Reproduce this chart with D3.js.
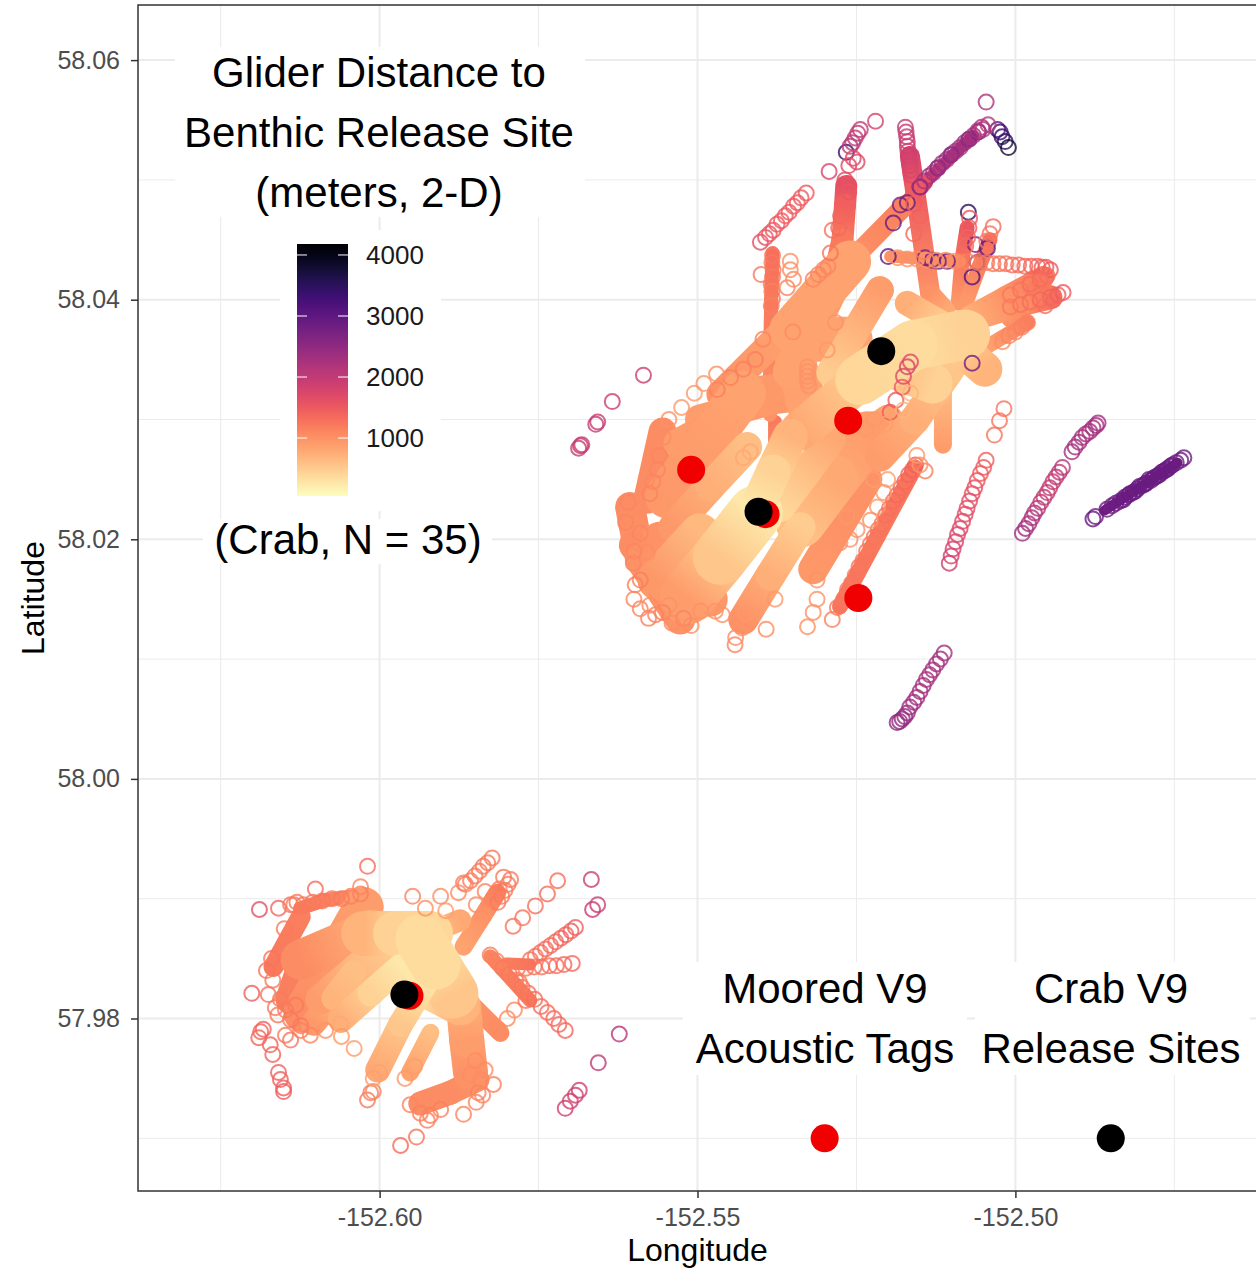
<!DOCTYPE html>
<html>
<head>
<meta charset="utf-8">
<script src="https://cdn.jsdelivr.net/npm/d3@7"></script>
<style>
    html, body { margin: 0; padding: 0; background: #fff; }
    text { font-family: "Liberation Sans", Arial, sans-serif; }
</style>
</head>
<body>
<div id="chart"></div>
<script>
// glider fixes are stored as [lon, lat, distance]: lon and lat are offsets from 152W / 58N in 1e-4 degrees
const lonTicks = [-152.60, -152.55, -152.50];
const lonMinor = [-152.625, -152.575, -152.525, -152.475];
const latTicks = [57.98, 58.00, 58.02, 58.04, 58.06];
const latMinor = [57.97, 57.99, 58.01, 58.03, 58.05];
const legendTicks = [1000, 2000, 3000, 4000];
const distanceRange = [50, 4180];

const crabSites = [[-152.5211, 58.0357], [-152.5404, 58.0223], [-152.5961, 57.9820]];
const mooredTags = [[-152.5510, 58.0258], [-152.5263, 58.0299], [-152.5247, 58.0151], [-152.5393, 58.0221], [-152.5953, 57.9819]];
const keyTag = [-152.53, 57.97];
const keySite = [-152.485, 57.97];

// very dense parts of the tracks, where the open circles merge into solid bands
const swaths = [
    [[-5606,227,1050],[-5590,183,1000],[-5527,133,1000]],
    [[-5579,233,1050],[-5555,290,1050]],
    [[-5547,236,950],[-5488,279,900],[-5428,322,850]],
    [[-5496,205,650],[-5563,166,950]],
    [[-5409,222,250],[-5464,185,550],[-5516,152,900]],
    [[-5422,277,600],[-5480,244,750],[-5538,210,950]],
    [[-5406,227,250],[-5381,256,450],[-5354,286,700]],
    [[-5378,258,1000],[-5378,298,1200]],
    [[-5370,227,400],[-5291,283,800]],
    [[-5338,214,600],[-5287,250,800],[-5233,286,900]],
    [[-5338,210,500],[-5385,170,750],[-5428,133,1000]],
    [[-5318,175,950],[-5276,212,1000],[-5233,250,1000]],
    [[-5276,144,1250],[-5217,202,1200],[-5158,260,1250]],
    [[-5464,321,1000],[-5354,379,850]],
    [[-5354,375,850],[-5260,432,850]],
    [[-5260,432,1000],[-5173,479,1150]],
    [[-5173,479,1300],[-5142,498,1600]],
    [[-5266,495,1600],[-5268,479,1450],[-5272,450,1200],[-5283,425,1100]],
    [[-5166,520,1800],[-5158,492,1500],[-5134,405,1000],[-5110,391,800]],
    [[-5197,436,1000],[-5087,432,1050]],
    [[-5076,460,1550],[-5084,433,1250],[-5090,397,950]],
    [[-5040,450,1300],[-5056,429,1150],[-5076,400,950]],
    [[-5071,386,750],[-5016,402,1000],[-4956,419,1200]],
    [[-5071,383,750],[-4993,396,1050],[-4945,402,1300]],
    [[-5060,356,800],[-4981,381,1150]],
    [[-5244,333,400],[-5161,362,350],[-5079,371,450]],
    [[-5291,339,500],[-5213,408,900]],
    [[-5170,397,750],[-5118,381,500]],
    [[-5103,367,400],[-5048,342,700]],
    [[-5103,342,550],[-5158,300,750],[-5213,269,900]],
    [[-5114,329,600],[-5114,279,900]],
    [[-5213,346,400],[-5338,291,800]],
    [[-5354,367,900],[-5322,300,850]],
    [[-5496,300,900],[-5386,316,950]],
    [[-5382,439,1300],[-5384,400,1200],[-5386,352,1100],[-5386,304,1000]],
    [[-6120,-195,1050],[-6072,-151,950],[-6025,-107,900]],
    [[-6061,-201,750],[-6014,-179,450],[-5967,-157,250]],
    [[-6104,-204,950],[-6072,-183,700],[-6041,-162,600]],
    [[-6025,-129,700],[-5975,-129,450],[-5920,-129,400]],
    [[-6167,-157,1200],[-6124,-115,1150]],
    [[-6125,-108,1200],[-6085,-101,1150],[-6040,-98,1050]],
    [[-5925,-168,250],[-5967,-205,550],[-6003,-243,800]],
    [[-5920,-212,600],[-5952,-245,850]],
    [[-5936,-134,350],[-5912,-155,350],[-5884,-179,550]],
    [[-5925,-129,500],[-5873,-118,800]],
    [[-5868,-140,850],[-5837,-114,1000],[-5815,-95,1150]],
    [[-5868,-190,750],[-5863,-218,900],[-5857,-245,1000]],
    [[-5936,-271,1050],[-5889,-262,1050],[-5846,-251,1000]],
    [[-5936,-172,250],[-5873,-189,700]],
    [[-5826,-148,1100],[-5763,-185,1200]],
    [[-5802,-154,1150],[-5763,-155,1250]],
    [[-5440,317,950],[-5338,324,950]],
    [[-5338,367,850],[-5260,367,850]],
    [[-5292,408,900],[-5354,340,850]],
    [[-6124,-151,1050],[-6014,-126,750]],
    [[-6093,-184,900],[-5991,-138,500]],
    [[-6140,-184,1150],[-6124,-159,1150]],
    [[-5852,-190,1000],[-5810,-212,1050]],
    [[-5005,385,1000],[-4960,410,1200]],
    [[-5560,200,1000],[-5480,150,950]],
    [[-5600,195,1050],[-5555,165,1000]],
    [[-5530,280,900],[-5460,300,950]],
    [[-5250,280,950],[-5200,300,850]],
    [[-5180,340,600],[-5130,330,450]],
    [[-5142,498,1900],[-5104,518,2200],[-5066,537,2300]],
    [[-4860,224,2850],[-4745,264,2850]]
];
const swathWidths = [30,28,45,40,55,30,35,14,30,50,30,30,16,28,42,20,16,22,20,12,15,15,22,24,15,50,28,25,35,30,18,40,40,30,14,
    40,26,25,45,20,14,25,18,50,22,18,35,24,40,14,12,40,45,35,40,30,30,18,22,35,30,30,30,40,12,10];

const darkFixes = [
    [-5266,523,3400],[-5200,436,3000],[-5142,435,2800],[-5131,433,2800],[-5121,432,2900],[-5107,432,2900],[-5060,431,3200],
    [-5068,419,3100],[-5192,464,2900],[-5170,481,2900],[-5181,479,2800],[-5063,446,2700],[-5074,473,3500],[-5068,347,2800],
    [-5044,443,3000],[-5150,494,3100],[-5122,510,3100],[-5101,521,3100],[-5073,534,3100],[-5058,540,3000],
    [-5028,542,3000],[-5024,540,3300],[-5021,536,3400],[-5016,532,3500],[-5011,527,3800]
];
const farWest = [[-5585,337,1900],[-5634,315,1900],[-5657,298,1950],[-5660,296,1950],[-5682,279,1950],[-5687,276,1950],[-5684,278,1950]];
const eastLine = [
    [-4878,217,2900],[-4874,219,2850],[-4856,225,2850],[-4848,228,2800],[-4842,230,2850],[-4835,232,2850],[-4828,235,2850],
    [-4822,237,2850],[-4815,239,2850],[-4808,242,2850],[-4800,245,2850],[-4794,247,2850],[-4787,249,2850],[-4780,252,2850],
    [-4773,254,2850],[-4766,257,2850],[-4760,259,2850],[-4753,262,2850],[-4747,264,2850],[-4740,266,2850],[-4735,268,2850],
    [-4830,233,2900],[-4820,238,2900],[-4812,240,2900],[-4805,244,2900],[-4796,246,2900],[-4790,250,2900],[-4783,251,2900],
    [-4776,253,2900],[-4770,256,2900],[-4763,258,2900],[-4756,261,2900]
];
const midEastLine = [
    [-4989,205,2350],[-4984,209,2300],[-4979,213,2250],[-4974,218,2200],[-4970,222,2150],[-4965,226,2100],[-4960,231,2050],
    [-4955,235,2000],[-4950,239,1950],[-4946,243,1950],[-4941,248,1950],[-4936,252,2000],[-4931,256,2050],[-4926,260,2100],
    [-4911,273,2300],[-4906,277,2300],[-4900,281,2250],[-4895,285,2250],[-4889,288,2250],[-4883,290,2250],[-4878,293,2250],
    [-4873,295,2300],[-4870,297,2300]
];
const nearEastLine = [
    [-5104,180,1850],[-5101,186,1800],[-5098,192,1800],[-5094,198,1750],[-5091,204,1750],[-5087,209,1700],[-5083,215,1700],
    [-5079,221,1650],[-5076,226,1650],[-5072,232,1650],[-5068,238,1600],[-5064,243,1600],[-5060,249,1550],[-5055,255,1500],
    [-5050,260,1500],[-5046,266,1450],[-5033,287,1250],[-5025,299,1250],[-5018,309,1250]
];
const southLine = [
    [-5186,47,2500],[-5182,48,2500],[-5178,50,2450],[-5174,52,2450],[-5170,55,2400],[-5166,60,2350],[-5160,64,2350],[-5155,68,2300],
    [-5150,73,2300],[-5145,78,2300],[-5140,83,2250],[-5135,87,2250],[-5130,91,2250],[-5124,96,2300],[-5118,100,2300],[-5112,105,2300]
];
const thinBand = [
    [-5288,133,1150],[-5280,143,1200],[-5270,150,1200],[-5264,158,1200],[-5258,163,1250],[-5252,170,1200],[-5246,177,1250],
    [-5240,182,1200],[-5234,190,1250],[-5228,196,1200],[-5222,202,1250],[-5216,208,1250],[-5210,213,1250],[-5204,220,1300],
    [-5198,226,1300],[-5192,232,1300],[-5186,237,1350],[-5180,243,1300],[-5174,248,1350],[-5168,254,1400],[-5162,258,1400],
    [-5157,262,1450],[-5142,257,1150]
];
const lowerScatter = [
    [-5327,127,1000],[-5318,139,1000],[-5312,150,1000],[-5312,166,1000],[-5276,197,1000],[-5260,200,1000],[-5249,208,1000],
    [-5265,219,950],[-5223,250,900],[-5201,250,900],[-5207,239,950],[-5217,227,950],[-5228,216,1000],[-5441,112,1100],
    [-5392,125,1050],[-5378,150,950],[-5430,126,1000],[-5472,140,1000],[-5461,137,1000],[-5577,134,1150],[-5566,137,1150],
    [-5555,139,1150],[-5522,134,1100],[-5598,162,1150],[-5590,166,1150],[-5601,180,1100],[-5613,214,1100],[-5609,231,1100],
    [-5593,197,1050],[-5579,189,1050],[-5554,285,1050],[-5417,273,800],[-5428,268,800],[-5545,145,1000],[-5600,190,1100],
    [-5590,205,1100],[-5580,250,1050],[-5572,270,1050]
];
const northWestRings = [
    [-5329,489,1500],[-5337,485,1500],[-5343,481,1500],[-5349,478,1500],[-5356,473,1500],[-5362,470,1500],[-5368,466,1500],
    [-5375,463,1500],[-5381,458,1500],[-5387,455,1550],[-5393,452,1550],[-5401,448,1600],[-5382,437,1200],[-5383,431,1200],
    [-5381,425,1250],[-5382,419,1200],[-5384,413,1200],[-5383,407,1150],[-5382,401,1200],[-5384,395,1150],[-5354,425,1050],
    [-5349,417,1050],[-5359,410,1100],[-5354,432,1000],[-5400,421,1200],[-5293,507,1750],[-5220,549,1800],[-5244,542,2000],
    [-5248,539,2000],[-5252,535,2000],[-5256,531,2050],[-5260,528,2050],[-5249,515,1700],[-5255,518,1700],[-5262,512,1700],
    [-5173,544,1950],[-5172,540,1950],[-5171,536,1950],[-5170,532,1900],[-5170,528,1900],[-5169,524,1850],[-5168,520,1850],
    [-5167,516,1800],[-5166,512,1800],[-5165,508,1750],[-5164,504,1700]
];
const northEastDiagonal = [
    [-5150,494,2300],[-5143,499,2250],[-5136,503,2300],[-5129,506,2300],[-5122,510,2300],[-5115,514,2350],[-5108,517,2350],
    [-5101,521,2350],[-5094,524,2300],[-5087,527,2350],[-5080,531,2300],[-5073,534,2350],[-5066,537,2300],[-5059,541,2200],
    [-5053,544,2150],[-5046,565,2200],[-5043,546,2100],[-5051,542,2150]
];
const fanEast = [
    [-5185,435,1000],[-5170,434,1000],[-5155,434,1000],[-5140,433,1000],[-5125,433,1000],[-5110,433,1000],[-5095,432,1050],
    [-5075,432,1100],[-5060,431,1150],[-5045,431,1200],[-5035,430,1200],[-5025,430,1250],[-5015,430,1250],[-5005,429,1300],
    [-4995,429,1300],[-4985,428,1350],[-4975,428,1400],[-4965,428,1400],[-4958,427,1450],[-4952,427,1450],[-4945,425,1500],
    [-5008,404,1200],[-4992,408,1250],[-4977,413,1300],[-4961,417,1350],[-5008,394,1200],[-4992,396,1250],[-4977,398,1300],
    [-4961,400,1350],[-4945,402,1400],[-4933,404,1450],[-4925,406,1500],[-4953,395,1300],[-5020,365,1050],[-5010,370,1100],
    [-5000,373,1100],[-4990,377,1150],[-4981,381,1150],[-5072,468,1500],[-5073,460,1450],[-5075,452,1400],[-5078,445,1350],
    [-5035,461,1300],[-5040,455,1250],[-5045,449,1200]
];
const blobRings = [
    [-5283,381,1000],[-5327,340,1000],[-5327,336,1000],[-5327,332,1000],[-5325,328,1000],[-5327,344,1000],[-5296,358,950],
    [-5350,373,1050],[-5397,367,1100],[-5318,417,1100],[-5310,421,1100],[-5302,425,1100],[-5295,428,1100],[-5288,458,1300],
    [-5291,439,1250],[-5469,325,1150],[-5448,335,1150],[-5428,342,1150],[-5409,350,1150],[-5197,306,1500],[-5178,327,1500],
    [-5188,316,1500],[-5165,322,700],[-5176,308,700],[-5176,336,1700],[-5170,344,1800],[-5165,348,1700]
];
const westPatchRings = [
    [-6019,-73,1300],[-6101,-92,1300],[-6189,-109,1600],[-6159,-108,1350],[-6201,-179,1450],[-6187,-211,1400],[-6190,-216,1400],
    [-6183,-209,1400],[-6172,-222,1400],[-6168,-230,1400],[-6159,-245,1450],[-6156,-251,1450],[-6151,-258,1450],[-6151,-261,1500],
    [-5948,-98,1100],[-5928,-108,1000],[-5967,-306,1350],[-5942,-299,1250],[-6019,-268,1200],[-6014,-262,1150],[-6010,-261,1100],
    [-6140,-105,1200],[-6130,-103,1200],[-6120,-105,1200],[-6105,-103,1200],[-6090,-102,1200],[-6075,-100,1200],[-6060,-100,1200],
    [-6045,-98,1150],[-6030,-96,1150],[-6168,-168,1200],[-6175,-180,1250],[-6156,-184,1200],[-6164,-191,1200],[-6148,-193,1200],
    [-6160,-197,1200],[-6132,-189,1200],[-6140,-201,1200],[-6124,-206,1200],[-6148,-214,1200],[-6140,-218,1250],[-6124,-210,1150],
    [-6109,-214,1100],[-6061,-205,800]
];
const eastPatchRings = [
    [-5826,-147,1150],[-5816,-152,1150],[-5806,-158,1200],[-5796,-163,1200],[-5786,-168,1200],[-5776,-174,1250],[-5766,-179,1250],
    [-5756,-184,1300],[-5746,-190,1300],[-5736,-195,1300],[-5726,-200,1350],[-5718,-205,1350],[-5708,-210,1400],
    [-5783,-158,1200],[-5770,-158,1200],[-5757,-157,1250],[-5745,-157,1250],[-5733,-156,1300],[-5722,-156,1300],[-5710,-155,1350],
    [-5697,-154,1350],[-5763,-151,1250],[-5755,-148,1250],[-5747,-145,1300],[-5739,-142,1300],[-5731,-139,1350],[-5723,-136,1350],
    [-5715,-133,1400],[-5707,-130,1400],[-5699,-127,1450],[-5692,-124,1450],[-5823,-66,1200],[-5830,-70,1200],[-5837,-73,1200],
    [-5843,-77,1200],[-5850,-81,1200],[-5857,-85,1150],[-5865,-88,1150],[-5868,-87,1150],[-5794,-84,1200],[-5798,-88,1200],
    [-5803,-93,1200],[-5808,-98,1200],[-5814,-103,1200],[-5755,-106,1300],[-5736,-96,1300],[-5720,-85,1300],[-5775,-116,1250],
    [-5790,-123,1250],[-5667,-84,1900],[-5657,-105,1950],[-5665,-109,1950],[-5623,-213,2100],[-5656,-237,2000],[-5686,-260,1850],
    [-5692,-264,1850],[-5700,-269,1850],[-5708,-275,1850],[-5788,-193,1050],[-5799,-200,1050],[-5813,-209,1050],[-5821,-255,1150],
    [-5868,-280,1100],[-5857,-247,1050],[-5841,-251,1050],[-5849,-235,1050],[-5834,-243,1050],[-5838,-264,1100],[-5904,-276,1150],
    [-5920,-281,1150],[-5936,-279,1150],[-5952,-272,1100],[-5896,-110,900],[-5876,-95,1050],[-5834,-94,1100],[-5848,-105,1050],
    [-5904,-98,1050]
];
const bandEnds = [
    [-5560,270,1100],[-5563,258,1100],[-5570,248,1100],[-5575,238,1100],[-5545,300,1000],[-5525,310,950],[-5505,322,950],
    [-5490,330,950],[-5470,338,1000],[-5600,150,1100],[-5590,142,1100],[-5575,145,1050],[-5540,130,1050],[-5510,128,1050],
    [-5495,140,1000],[-5440,118,1050],[-5434,128,1000],[-5425,138,950],[-5235,292,950],[-5222,300,950],[-5205,296,900],
    [-5150,262,1000],[-5155,270,950],[-4950,420,1300],[-4960,415,1250],[-4940,400,1350],[-5268,500,1600],[-5262,490,1550],
    [-5275,470,1400],[-5278,460,1350],[-5160,480,1500],[-5150,470,1400],[-5160,455,1350],[-5145,440,1200],[-6030,-90,1100],
    [-6170,-150,1250],[-6178,-160,1250],[-6150,-125,1200],[-6135,-105,1200],[-6085,-210,1000],[-6060,-215,950],[-6040,-225,900],
    [-6010,-250,900],[-6000,-245,850],[-5960,-250,950],[-5945,-240,900],[-5805,-82,1200],[-5812,-92,1150],[-5822,-100,1100],
    [-5780,-170,1200],[-5770,-185,1200],[-5848,-270,1100],[-5845,-262,1100],[-5925,-285,1150]
];
const ringGroups = [farWest, eastLine, midEastLine, nearEastLine, southLine, thinBand, lowerScatter, northWestRings,
    northEastDiagonal, fanEast, blobRings, westPatchRings, eastPatchRings, bandEnds];

const width = 1256;
const height = 1268;
const panel = {left: 138, right: 1257, top: 5, bottom: 1191};

const x = d3.scaleLinear().domain([-152.638, -152.462]).range([panel.left, panel.right]);
const y = d3.scaleLinear().domain([57.9656, 58.0646]).range([panel.bottom, panel.top]);
const color = d3.scaleLinear().domain(distanceRange).range([1, 0]);
const magma = d => d3.interpolateMagma(color(d));
const fixX = d => x(-152 + d[0] / 1e4);
const fixY = d => y(58 + d[1] / 1e4);

const svg = d3.select('#chart').append('svg').attr('width', width).attr('height', height);
svg.append('rect').attr('width', width).attr('height', height).attr('fill', '#fff');
const defs = svg.append('defs');

// grid
const grid = svg.append('g');
function vLines(values, w) {
    grid.selectAll(null).data(values).enter().append('line')
        .attr('x1', d => x(d)).attr('x2', d => x(d))
        .attr('y1', panel.top).attr('y2', panel.bottom)
        .attr('stroke', '#ebebeb').attr('stroke-width', w);
}
function hLines(values, w) {
    grid.selectAll(null).data(values).enter().append('line')
        .attr('y1', d => y(d)).attr('y2', d => y(d))
        .attr('x1', panel.left).attr('x2', panel.right)
        .attr('stroke', '#ebebeb').attr('stroke-width', w);
}
vLines(lonMinor, 1); hLines(latMinor, 1);
vLines(lonTicks, 2); hLines(latTicks, 2);

// white boxes behind the labels
const labelBoxes = [[175, 47, 410, 170], [280, 230, 161, 281], [203, 519, 289, 45], [683, 962, 284, 113], [975, 962, 275, 113]];
svg.append('g').selectAll('rect').data(labelBoxes).enter().append('rect')
    .attr('x', d => d[0]).attr('y', d => d[1]).attr('width', d => d[2]).attr('height', d => d[3])
    .attr('fill', '#fff');

// solid bands, one gradient piece per stretch, farthest first so the pale centre stays on top
const pieces = [];
swaths.forEach((s, i) => {
    d3.pairs(s).forEach(p => pieces.push({a: p[0], b: p[1], w: swathWidths[i]}));
});
pieces.sort((p, q) => d3.descending(p.a[2] + p.b[2], q.a[2] + q.b[2]));
pieces.forEach((p, i) => {
    const g = defs.append('linearGradient').attr('id', 'piece' + i)
        .attr('gradientUnits', 'userSpaceOnUse')
        .attr('x1', fixX(p.a)).attr('y1', fixY(p.a)).attr('x2', fixX(p.b)).attr('y2', fixY(p.b));
    g.append('stop').attr('offset', '0%').attr('stop-color', magma(p.a[2]));
    g.append('stop').attr('offset', '100%').attr('stop-color', magma(p.b[2]));
});
svg.append('g').selectAll('line').data(pieces).enter().append('line')
    .attr('x1', d => fixX(d.a)).attr('y1', d => fixY(d.a))
    .attr('x2', d => fixX(d.b) + 0.01).attr('y2', d => fixY(d.b) + 0.01)
    .attr('stroke', (d, i) => `url(#piece${i})`)
    .attr('stroke-width', d => d.w)
    .attr('stroke-linecap', 'round');

// open circles for the single fixes
function drawRings(data) {
    svg.append('g').selectAll('circle').data(data).enter().append('circle')
        .attr('cx', fixX).attr('cy', fixY).attr('r', 7.5)
        .attr('fill', 'none')
        .attr('stroke', d => magma(d[2]))
        .attr('stroke-width', 2)
        .attr('stroke-opacity', 0.8);
}
drawRings(darkFixes);
ringGroups.forEach(drawRings);

// moored tags and release sites
function drawDots(data, fill) {
    svg.append('g').selectAll('circle').data(data).enter().append('circle')
        .attr('cx', d => x(d[0])).attr('cy', d => y(d[1])).attr('r', 14)
        .attr('fill', fill);
}
drawDots(mooredTags, '#f00000');
drawDots(crabSites, '#000');
drawDots([keyTag], '#f00000');
drawDots([keySite], '#000');

// panel border and axes
svg.append('rect')
    .attr('x', panel.left).attr('y', panel.top)
    .attr('width', panel.right - panel.left).attr('height', panel.bottom - panel.top)
    .attr('fill', 'none').attr('stroke', '#333').attr('stroke-width', 1.5);

const xAxis = svg.append('g').attr('transform', `translate(0, ${panel.bottom})`)
    .call(d3.axisBottom(x).tickValues(lonTicks).tickSize(7).tickSizeOuter(0).tickFormat(d => d.toFixed(2)));
const yAxis = svg.append('g').attr('transform', `translate(${panel.left}, 0)`)
    .call(d3.axisLeft(y).tickValues(latTicks).tickSize(7).tickSizeOuter(0).tickFormat(d => d.toFixed(2)));
[xAxis, yAxis].forEach(a => {
    a.select('.domain').remove();
    a.selectAll('line').attr('stroke', '#333').attr('stroke-width', 1.5);
    a.selectAll('text').attr('fill', '#4d4d4d').style('font-size', '25px');
});
xAxis.selectAll('text').attr('dy', '0.71em').attr('y', 17);
yAxis.selectAll('text').attr('x', -18);

svg.append('text').attr('x', x(-152.55)).attr('y', 1261)
    .attr('text-anchor', 'middle').style('font-size', '32px').text('Longitude');
svg.append('text').attr('transform', `translate(44, ${(panel.top + panel.bottom) / 2}) rotate(-90)`)
    .attr('text-anchor', 'middle').style('font-size', '32px').text('Latitude');

// colour key
const legendY = d3.scaleLinear().domain(distanceRange).range([496, 244]);
const barGradient = defs.append('linearGradient').attr('id', 'bar')
    .attr('x1', 0).attr('x2', 0).attr('y1', 1).attr('y2', 0);
d3.range(0, 1.001, 0.05).forEach(t => {
    barGradient.append('stop').attr('offset', t).attr('stop-color', d3.interpolateMagma(1 - t));
});
svg.append('rect').attr('x', 297).attr('y', 244).attr('width', 51).attr('height', 252).attr('fill', 'url(#bar)');
const legendAxis = svg.append('g').attr('transform', 'translate(348, 0)')
    .call(d3.axisRight(legendY).tickValues(legendTicks).tickSize(0).tickPadding(18).tickFormat(d => String(d)));
legendAxis.select('.domain').remove();
legendAxis.selectAll('text').attr('fill', '#1a1a1a').style('font-size', '26px');
svg.append('g').selectAll('line').data(legendTicks.flatMap(t => [[297, t], [338, t]])).enter().append('line')
    .attr('x1', d => d[0]).attr('x2', d => d[0] + 10)
    .attr('y1', d => legendY(d[1])).attr('y2', d => legendY(d[1]))
    .attr('stroke', '#fff').attr('stroke-width', 1);

// labels written on the map
const mapLabels = [
    ['Glider Distance to', 379, 87], ['Benthic Release Site', 379, 147], ['(meters, 2-D)', 379, 207],
    ['(Crab, N = 35)', 348, 554], ['Moored V9', 825, 1003], ['Acoustic Tags', 825, 1063],
    ['Crab V9', 1111, 1003], ['Release Sites', 1111, 1063]
];
svg.append('g').selectAll('text').data(mapLabels).enter().append('text')
    .attr('x', d => d[1]).attr('y', d => d[2])
    .attr('text-anchor', 'middle').attr('fill', '#000')
    .style('font-size', '42px')
    .text(d => d[0]);
</script>
</body>
</html>
